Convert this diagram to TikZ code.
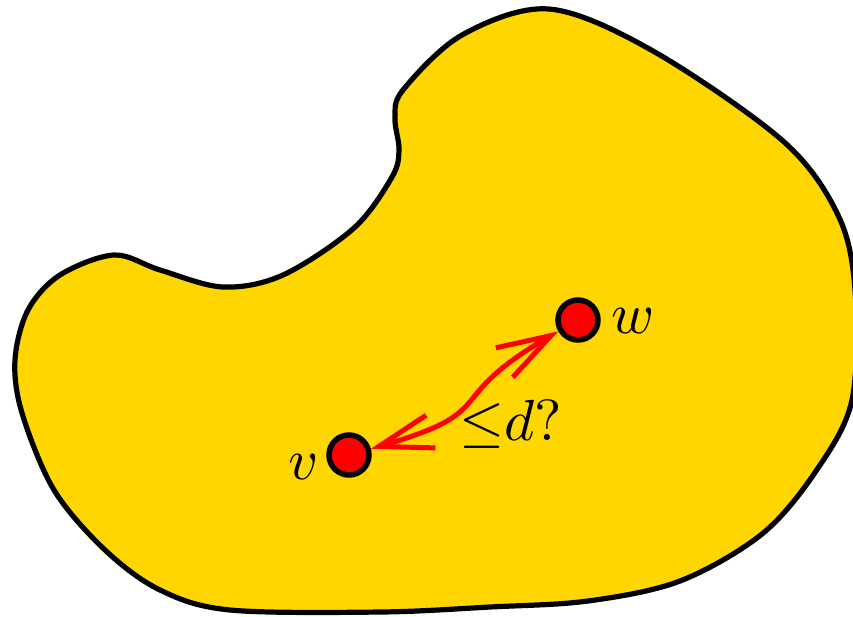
\documentclass[tikz,border=0pt]{standalone}
\usepackage{amsmath,amssymb}
\usepackage{xcolor}
\usepackage{tikz}
\usetikzlibrary{arrows.meta,positioning,calc}
\definecolor{Gold}{HTML}{FFD600}
\definecolor{Ink}{HTML}{000000}
\definecolor{Hot}{HTML}{FF0000}
\tikzset{
  blob/.style={draw=Ink,fill=Gold,line width=5.2pt,line join=round},
  vertex/.style={circle,draw=Ink,fill=Hot,line width=5.5pt,minimum size=40pt,inner sep=0pt},
  reach/.style={{Straight Barb[length=54pt,width=34pt]}-{Straight Barb[length=54pt,width=34pt]},draw=Hot,line width=5pt},
  lbl/.style={scale=5.8,inner sep=0pt}
}

\begin{document}
\begin{tikzpicture}[x=1pt,y=-1pt]
  \useasboundingbox (0,0) rectangle (853,616);
  \draw[blob] plot[smooth cycle,tension=0.55] coordinates {
    (549,9) (653,51) (783,141) (838,215) (855,290) (852,400)
    (816,471) (762,534) (680,581) (588,601) (490,607) (381,612)
    (230,610) (160,590) (105,550) (54,490) (22,413) (15,360)
    (28,310) (60,275) (114,255) (160,270) (223,287) (283,275)
    (354,228) (392,177) (399,150) (395,118) (403,90) (462,35)};
  \node[vertex] (v) at (349,455) {};
  \node[vertex] (w) at (578,320) {};
  \node[lbl,anchor=east] (vl) at ($(v.west)+(-6,12)$) {$v$};
  \node[lbl,anchor=west] (wl) at ($(w.east)+(10,1)$) {$w$};
  \node[lbl] (dl) at (511,424) {${\leq}d?$};
  \draw[reach] (v) to[out=16,in=-150,looseness=1.6] (w);
\end{tikzpicture}
\end{document}
